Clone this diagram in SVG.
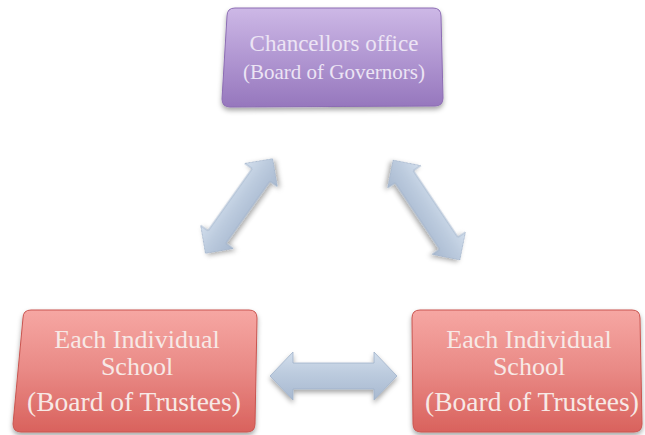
<svg xmlns="http://www.w3.org/2000/svg" width="645" height="435" viewBox="0 0 645 435">
  <defs>
    <linearGradient id="gPurple" x1="0" y1="0" x2="0" y2="1">
      <stop offset="0" stop-color="#cdb8e6"/>
      <stop offset="0.5" stop-color="#b197d2"/>
      <stop offset="1" stop-color="#9677bd"/>
    </linearGradient>
    <linearGradient id="gRed" x1="0" y1="0" x2="0" y2="1">
      <stop offset="0" stop-color="#f6a7a3"/>
      <stop offset="0.5" stop-color="#e98985"/>
      <stop offset="1" stop-color="#d9625d"/>
    </linearGradient>
    <linearGradient id="gArrow" x1="0" y1="0" x2="0" y2="1">
      <stop offset="0" stop-color="#d2deec"/>
      <stop offset="0.45" stop-color="#bccbde"/>
      <stop offset="1" stop-color="#a8b9d0"/>
    </linearGradient>
    <filter id="shadow" x="-20%" y="-20%" width="140%" height="150%">
      <feDropShadow dx="0" dy="3" stdDeviation="2.5" flood-color="#000" flood-opacity="0.35"/>
    </filter>
  </defs>
  <style>
    .box { stroke-width: 1; filter: url(#shadow); }
    .top { fill: url(#gPurple); stroke: #8c6db3; }
    .school { fill: url(#gRed); stroke: #c95550; }
    .lbl { font-family: "Liberation Serif", "DejaVu Serif", serif; text-anchor: middle; }
    .lblTop { fill: #ece4f4; }
    .lblSchool { fill: #f7e9e6; }
    .arrow { fill: url(#gArrow); stroke: #9fb1c9; stroke-width: 0.8; filter: url(#shadow); }
  </style>

  <!-- connectors -->
  <g id="connectors">
    <path class="arrow" transform="translate(239,206) rotate(-54.6)" d="M -58,0 L -38,-20 L -38,-11 L 38,-11 L 38,-20 L 58,0 L 38,20 L 38,11 L -38,11 L -38,20 Z"/>
    <path class="arrow" transform="translate(426.5,210) rotate(56.2)" d="M -60,0 L -40,-20 L -40,-11 L 40,-11 L 40,-20 L 60,0 L 40,20 L 40,11 L -40,11 L -40,20 Z"/>
    <path class="arrow" transform="translate(333.5,376)" d="M -63.5,0 L -40.5,-24 L -40.5,-13 L 40.5,-13 L 40.5,-24 L 63.5,0 L 40.5,24 L 40.5,13 L -40.5,13 L -40.5,24 Z"/>
  </g>

  <!-- top node -->
  <g id="chancellors-office">
    <path class="box top" d="M 235,8 L 433,8 Q 441,8 441,16 L 443,98 Q 443,106 435,106 L 230,107 Q 222,107 222,99 L 227,16 Q 227,8 235,8 Z"/>
    <text class="lbl lblTop" x="334" y="51" font-size="23">Chancellors office</text>
    <text class="lbl lblTop" x="334" y="79" font-size="21">(Board of Governors)</text>
  </g>

  <!-- bottom left node -->
  <g id="school-left">
    <path class="box school" d="M 31,310 L 249,310 Q 257,310 257,318 L 255,424 Q 255,432 247,432 L 21,432 Q 13,432 13,424 L 23,318 Q 23,310 31,310 Z"/>
    <text class="lbl lblSchool" x="137" y="348" font-size="26">Each Individual</text>
    <text class="lbl lblSchool" x="137" y="375" font-size="26">School</text>
    <text class="lbl lblSchool" x="134" y="411" font-size="27.5">(Board of Trustees)</text>
  </g>

  <!-- bottom right node -->
  <g id="school-right">
    <path class="box school" d="M 420,310 L 632,310 Q 640,310 640,318 L 642,424 Q 642,432 634,432 L 421,432 Q 413,432 413,424 L 412,318 Q 412,310 420,310 Z"/>
    <text class="lbl lblSchool" x="529" y="348" font-size="26">Each Individual</text>
    <text class="lbl lblSchool" x="529" y="375" font-size="26">School</text>
    <text class="lbl lblSchool" x="532" y="411" font-size="27.5">(Board of Trustees)</text>
  </g>
</svg>
